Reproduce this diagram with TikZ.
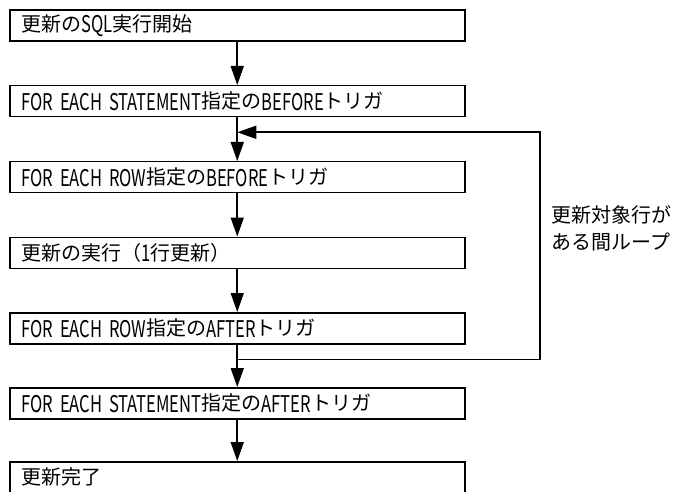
\documentclass[tikz,border=0pt]{standalone}
\usepackage{fontspec}
\setmainfont{Noto Sans CJK JP}
\newfontfamily\latnfont[FakeStretch=0.72,Scale=1.15]{Noto Sans CJK JP}
\newcommand{\latn}[1]{{\latnfont\raisebox{-1.5pt}{#1}}}
\usepackage{tikz}
\usetikzlibrary{
  arrows.meta,%
  calc,%
  positioning
}
\tikzset{>={Triangle[length=19pt,width=13pt]}}
\tikzset{font=\fontsize{20pt}{27pt}\selectfont}
\tikzset{
  flowbox/.style={draw, line width=1.5pt, anchor=north west,
    minimum height=31pt, text width=431pt, inner xsep=12pt,
    inner ysep=0pt, align=left},
  flowline/.style={line width=1.6pt}
}

\begin{document}
\begin{tikzpicture}[x=1pt, y=-1pt]
      \useasboundingbox (0, 0) rectangle (675, 492); %
      \node[flowbox] (start) at (9, 9.5) {更新の\latn{SQL}実行開始}; %
      \node[flowbox] (stmtbefore) at (9, 85) {\latn{FOR EACH STATEMENT}指定の\latn{BEFORE}トリガ}; %
      \node[flowbox] (rowbefore) at (9, 161) {\latn{FOR EACH ROW}指定の\latn{BEFORE}トリガ}; %
      \node[flowbox] (exec) at (9, 236.5) {更新の実行（\latn{1}行更新）}; %
      \node[flowbox] (rowafter) at (9, 312) {\latn{FOR EACH ROW}指定の\latn{AFTER}トリガ}; %
      \node[flowbox] (stmtafter) at (9, 387) {\latn{FOR EACH STATEMENT}指定の\latn{AFTER}トリガ}; %
      \node[flowbox] (done) at (9, 461) {更新完了}; %
      % loop points
      \coordinate (entry) at ($(stmtbefore.south)!0.34!(rowbefore.north)$); %
      \coordinate (join) at ($(rowafter.south)!0.35!(stmtafter.north)$); %
      \coordinate (loopx) at (540, 0); %
      \node[anchor=west, align=left] (looplabel) at (548, 228) {更新対象行が\\ある間ループ}; %
      \begin{scope}[flowline]
        \draw[->] (start) -- (stmtbefore); %
        \draw[->] (stmtbefore) -- (rowbefore); %
        \draw[->] (rowbefore) -- (exec); %
        \draw[->] (exec) -- (rowafter); %
        \draw[->] (rowafter) -- (stmtafter); %
        \draw[->] (stmtafter) -- (done); %
        \draw[->] (join) -- (join -| loopx) -- (entry -| loopx) -- (entry); %
      \end{scope}
    \end{tikzpicture}
\end{document}
